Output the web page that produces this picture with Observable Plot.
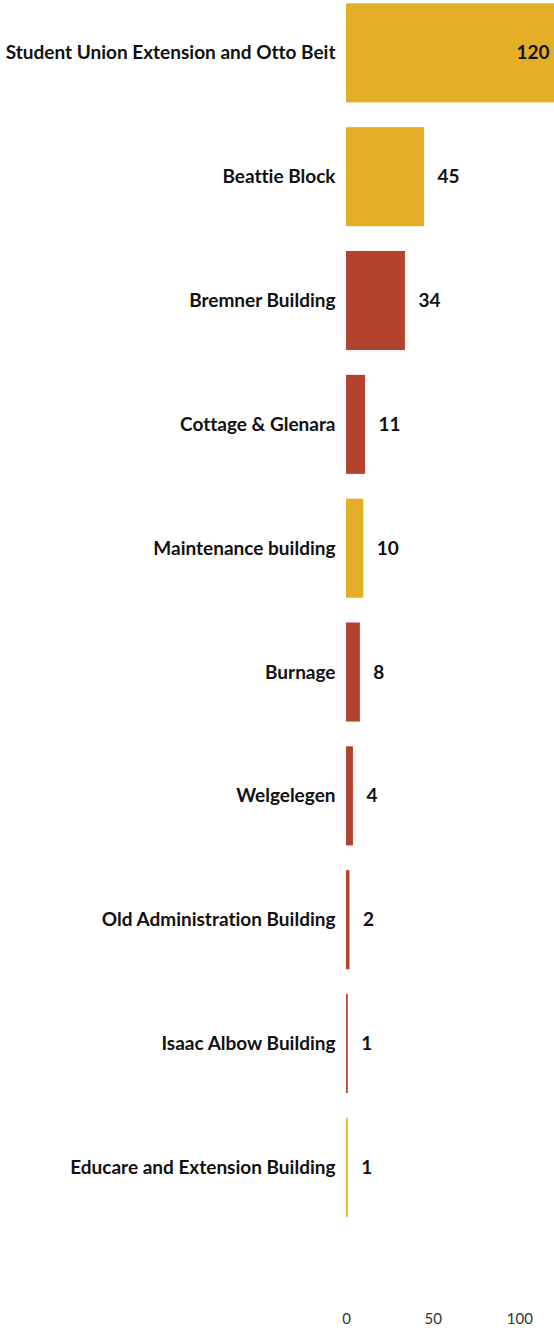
<!DOCTYPE html>
<html>
<head>
<meta charset="utf-8">
<script src="https://cdn.jsdelivr.net/npm/d3@7"></script>
<script src="https://cdn.jsdelivr.net/npm/@observablehq/plot@0.6"></script>
<style>
  html, body { margin: 0; padding: 0; background: #fff; }
  body { font-family: Lato, "Open Sans", sans-serif; }
  svg text { font-variant-ligatures: none; font-feature-settings: "liga" 0, "clig" 0; }
</style>
</head>
<body>
<div id="chart"></div>
<script>
const buildings = [
  "Student Union Extension and Otto Beit",
  "Beattie Block",
  "Bremner Building",
  "Cottage & Glenara",
  "Maintenance building",
  "Burnage",
  "Welgelegen",
  "Old Administration Building",
  "Isaac Albow Building",
  "Educare and Extension Building"
];
const counts = [120, 45, 34, 11, 10, 8, 4, 2, 1, 1];
const groups = ["A", "A", "B", "B", "A", "B", "B", "B", "B", "A"];
const xTicks = [0, 50, 100];

const data = buildings.map((b, i) => ({building: b, count: counts[i], group: groups[i]}));

const chart = Plot.plot({
  width: 554,
  height: 1328,
  marginLeft: 346,
  marginRight: 0,
  marginTop: 0,
  marginBottom: 20,
  style: {fontFamily: "Lato, sans-serif", background: "#fff"},
  x: {domain: [0, 120], ticks: xTicks, label: null},
  y: {domain: buildings, range: [-0.4, 1220.6], round: false, paddingInner: 0.2, paddingOuter: 0.03, label: null},
  color: {domain: ["A", "B"], range: ["#E4AF27", "#B3432E"]},
  marks: [
    Plot.barX(data, {x: "count", y: "building", fill: "group"}),
    Plot.text(data.filter(d => d.count >= 100), {
      x: "count", y: "building", text: d => String(d.count),
      textAnchor: "end", dx: -5, fontSize: 19, fontWeight: "bold", fill: "#111"
    }),
    Plot.text(data.filter(d => d.count < 100), {
      x: "count", y: "building", text: d => String(d.count),
      textAnchor: "start", dx: 13, fontSize: 19, fontWeight: "bold", fill: "#111"
    }),
    Plot.axisY({tickSize: 0, tickPadding: 11, fontSize: 19, fontWeight: "bold", fill: "#111", label: null}),
    Plot.axisX({ticks: xTicks, tickSize: 0, tickPadding: 5, fontSize: 15, fill: "#333", label: null})
  ]
});
document.getElementById("chart").appendChild(chart);
</script>
</body>
</html>
